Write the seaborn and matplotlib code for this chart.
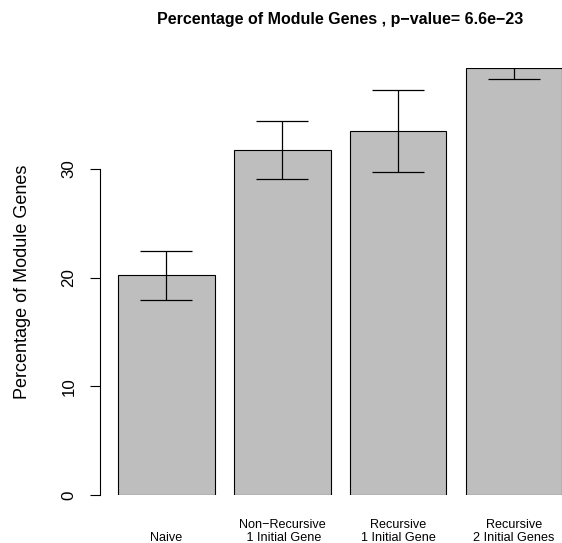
import matplotlib
matplotlib.use("Agg")
import matplotlib.pyplot as plt
import seaborn as sns
import numpy as np
import pandas as pd

categories = ["Naive", "Non−Recursive\n 1 Initial Gene", "Recursive\n1 Initial Gene", "Recursive\n2 Initial Genes"]
tick_labels = ["\nNaive", "Non−Recursive\n 1 Initial Gene", "Recursive\n1 Initial Gene", "Recursive\n2 Initial Genes"]
values = [20.24, 31.75, 33.5, 39.32]
err_low = [17.94, 29.08, 29.75, 38.25]
err_high = [22.45, 34.42, 37.27, 40.4]
y_ticks = [0, 10, 20, 30]
title = "Percentage of Module Genes , p−value= 6.6e−23"
ylabel = "Percentage of Module Genes"

sns.set_style("white")
plt.rcParams['font.family'] = ['Liberation Sans', 'DejaVu Sans']
plt.rcParams['text.color'] = 'black'
plt.rcParams['axes.labelcolor'] = 'black'
plt.rcParams['xtick.color'] = 'black'
plt.rcParams['ytick.color'] = 'black'

W, H = 562, 543
fig = plt.figure(figsize=(W / 100, H / 100), dpi=100)
left_px, right_px, top_px, bottom_px = 100.4, 580.0, 67.7, 495.0
ax = fig.add_axes([left_px / W, (H - bottom_px) / H, (right_px - left_px) / W, (bottom_px - top_px) / H])

df = pd.DataFrame({"cat": categories, "val": values})
sns.barplot(data=df, x="cat", y="val", color="#BEBEBE", saturation=1, edgecolor="black",
            linewidth=0.8, width=1 / 1.2, errorbar=None, ax=ax)

pos = np.arange(len(values))
vals = np.array(values)
ax.errorbar(pos, vals, yerr=[vals - np.array(err_low), np.array(err_high) - vals], fmt="none",
            ecolor="black", elinewidth=0.9, capsize=19, capthick=0.9)

ax.set_xlim(-0.570, 3.57)
ax.set_ylim(0, values[-1])
for s in ["top", "right", "bottom"]:
    ax.spines[s].set_visible(False)
ax.spines["left"].set_bounds(0, 30)
ax.spines["left"].set_linewidth(0.8)
ax.spines["left"].set_color("black")
ax.set_yticks(y_ticks)
ax.set_yticklabels([str(t) for t in y_ticks], rotation=90, va="center", fontsize=12.2, color="black")
ax.tick_params(axis="y", left=True, length=7.2, width=0.8, color="black", labelcolor="black", pad=10)
ax.set_xticks(pos)
ax.set_xticklabels(tick_labels, fontsize=9.1, linespacing=1.13, color="black")
ax.tick_params(axis="x", bottom=False, pad=14, labelcolor="black")
ax.set_xlabel("")
ax.set_ylabel(ylabel, fontsize=13, labelpad=22, color="black")
ax.set_title(title, fontsize=11.5, fontweight="bold", pad=31.5, color="black")

fig.savefig("out.png", dpi=100)
